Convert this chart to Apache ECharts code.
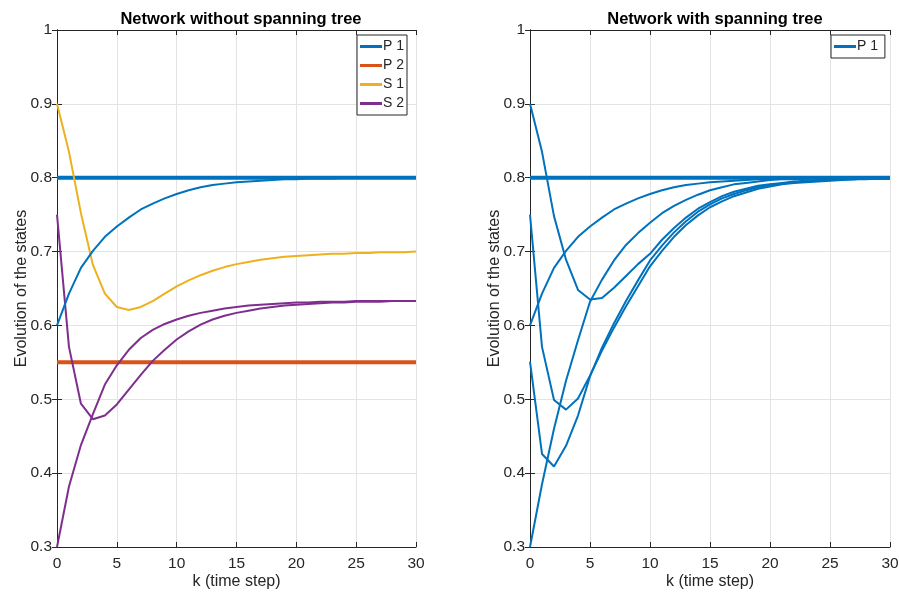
<!DOCTYPE html>
<html>
<head>
<meta charset="utf-8">
<script src="https://cdn.jsdelivr.net/npm/echarts@6/dist/echarts.min.js"></script>
<style>
  html, body { margin: 0; padding: 0; background: #fff; }
  #main { width: 899px; height: 592px; }
</style>
</head>
<body>
<div id="main"></div>
<script>
// time steps k = 0..30
var steps = [];
for (var i = 0; i <= 30; i++) steps.push(i);

var xTicks = [0, 5, 10, 15, 20, 25, 30];
var yTicks = [0.3, 0.4, 0.5, 0.6, 0.7, 0.8, 0.9, 1];

// left panel: network without spanning tree
var leftP1 = [0.8, 0.8, 0.8, 0.8, 0.8, 0.8, 0.8, 0.8, 0.8, 0.8, 0.8, 0.8, 0.8, 0.8, 0.8, 0.8, 0.8, 0.8, 0.8, 0.8, 0.8, 0.8, 0.8, 0.8, 0.8, 0.8, 0.8, 0.8, 0.8, 0.8, 0.8];
var leftP2 = [0.55, 0.55, 0.55, 0.55, 0.55, 0.55, 0.55, 0.55, 0.55, 0.55, 0.55, 0.55, 0.55, 0.55, 0.55, 0.55, 0.55, 0.55, 0.55, 0.55, 0.55, 0.55, 0.55, 0.55, 0.55, 0.55, 0.55, 0.55, 0.55, 0.55, 0.55];
var leftS1 = [0.900, 0.835, 0.752, 0.682, 0.643, 0.625, 0.621, 0.625, 0.633, 0.643, 0.653, 0.661, 0.668, 0.674, 0.679, 0.683, 0.686, 0.689, 0.691, 0.693, 0.694, 0.695, 0.696, 0.697, 0.697, 0.698, 0.698, 0.699, 0.699, 0.699, 0.700];
var leftS2 = [0.750, 0.571, 0.494, 0.473, 0.478, 0.493, 0.513, 0.533, 0.552, 0.567, 0.581, 0.592, 0.601, 0.608, 0.613, 0.617, 0.620, 0.623, 0.625, 0.627, 0.628, 0.629, 0.630, 0.631, 0.631, 0.632, 0.632, 0.632, 0.633, 0.633, 0.633];
var leftBlue2 = [0.600, 0.643, 0.678, 0.701, 0.720, 0.734, 0.746, 0.757, 0.765, 0.772, 0.778, 0.783, 0.787, 0.790, 0.792, 0.794, 0.795, 0.796, 0.797, 0.798, 0.798, 0.799, 0.799, 0.799, 0.800, 0.800, 0.800, 0.800, 0.800, 0.800, 0.800];
var leftPurple2 = [0.300, 0.382, 0.438, 0.480, 0.520, 0.546, 0.567, 0.583, 0.594, 0.602, 0.608, 0.613, 0.617, 0.620, 0.623, 0.625, 0.627, 0.628, 0.629, 0.630, 0.631, 0.631, 0.632, 0.632, 0.632, 0.633, 0.633, 0.633, 0.633, 0.633, 0.633];

// right panel: network with spanning tree
var rightP1 = leftP1;
var rightA = [0.900, 0.835, 0.748, 0.689, 0.648, 0.635, 0.637, 0.651, 0.667, 0.683, 0.697, 0.716, 0.732, 0.746, 0.758, 0.767, 0.775, 0.781, 0.785, 0.789, 0.791, 0.793, 0.795, 0.796, 0.797, 0.797, 0.798, 0.798, 0.799, 0.799, 0.799];
var rightB = leftBlue2;
var rightC = [0.750, 0.571, 0.499, 0.486, 0.501, 0.532, 0.566, 0.597, 0.626, 0.653, 0.680, 0.701, 0.720, 0.736, 0.749, 0.760, 0.768, 0.775, 0.780, 0.785, 0.788, 0.791, 0.793, 0.794, 0.795, 0.796, 0.797, 0.798, 0.798, 0.799, 0.799];
var rightD = [0.551, 0.426, 0.409, 0.437, 0.478, 0.531, 0.570, 0.603, 0.633, 0.661, 0.688, 0.708, 0.726, 0.741, 0.754, 0.764, 0.772, 0.778, 0.783, 0.787, 0.790, 0.792, 0.794, 0.795, 0.796, 0.797, 0.798, 0.798, 0.799, 0.799, 0.799];
var rightE = [0.300, 0.385, 0.460, 0.525, 0.580, 0.632, 0.662, 0.688, 0.709, 0.725, 0.739, 0.752, 0.762, 0.770, 0.777, 0.783, 0.787, 0.791, 0.793, 0.795, 0.797, 0.798, 0.798, 0.799, 0.799, 0.799, 0.800, 0.800, 0.800, 0.800, 0.800];

var BLUE = '#0072bd', ORANGE = '#d95319', YELLOW = '#edb120', PURPLE = '#7e2f8e';
var AX = '#262626';
var FONT = 'Liberation Sans';

function pairs(arr) {
    return steps.map(function (k, i) { return [k, arr[i]]; });
}

function line(name, arr, color, width, gi) {
    return {
        name: name,
        type: 'line',
        xAxisIndex: gi * 2,
        yAxisIndex: gi * 2,
        data: pairs(arr),
        symbol: 'none',
        silent: true,
        animation: false,
        lineStyle: { color: color, width: width },
        itemStyle: { color: color }
    };
}

function xAxes(gi) {
    var base = {
        type: 'value', gridIndex: gi, min: 0, max: 30, interval: 5,
        axisLine: { show: true, lineStyle: { color: AX, width: 1 } },
        axisTick: { show: true, inside: true, length: 5, lineStyle: { color: AX } }
    };
    return [
        Object.assign({}, base, {
            position: 'bottom',
            name: 'k (time step)', nameLocation: 'middle', nameGap: 27, nameMoveOverlap: false,
            nameTextStyle: { color: AX, fontFamily: FONT, fontSize: 16 },
            axisLabel: { color: AX, fontFamily: FONT, fontSize: 15.5, margin: 9 },
            splitLine: { show: true, lineStyle: { color: '#e3e3e3', width: 1 } }
        }),
        Object.assign({}, base, {
            position: 'top',
            axisLabel: { show: false },
            splitLine: { show: false }
        })
    ];
}

function yAxes(gi) {
    var base = {
        type: 'value', gridIndex: gi, min: 0.3, max: 1, interval: 0.1,
        axisLine: { show: true, lineStyle: { color: AX, width: 1 } },
        axisTick: { show: true, inside: true, length: 5, lineStyle: { color: AX } }
    };
    return [
        Object.assign({}, base, {
            position: 'left',
            name: 'Evolution of the states', nameLocation: 'middle', nameGap: 27, nameMoveOverlap: false,
            nameTextStyle: { color: AX, fontFamily: FONT, fontSize: 16 },
            axisLabel: {
                color: AX, fontFamily: FONT, fontSize: 15.5, margin: 5,
                formatter: function (v) { return String(Math.round(v * 10) / 10); }
            },
            splitLine: { show: true, lineStyle: { color: '#e3e3e3', width: 1 } }
        }),
        Object.assign({}, base, {
            position: 'right',
            axisLabel: { show: false },
            splitLine: { show: false }
        })
    ];
}

var legendBase = {
    orient: 'vertical',
    backgroundColor: '#fff',
    borderColor: AX,
    borderWidth: 1,
    padding: [4, 3, 4, 3],
    itemGap: 4,
    itemWidth: 22,
    itemHeight: 3,
    icon: 'rect',
    selectedMode: false,
    textStyle: { color: AX, fontFamily: FONT, fontSize: 14, padding: [0, 0, 0, -4], lineHeight: 15 }
};

var chart = echarts.init(document.getElementById('main'));
var option = {
    animation: false,
    backgroundColor: '#fff',
    title: [
        { text: 'Network without spanning tree', left: 236, top: 6, textAlign: 'center',
          textStyle: { fontFamily: FONT, fontSize: 16.5, fontWeight: 'bold', color: '#000' } },
        { text: 'Network with spanning tree', left: 710, top: 6, textAlign: 'center',
          textStyle: { fontFamily: FONT, fontSize: 16.5, fontWeight: 'bold', color: '#000' } }
    ],
    grid: [
        { left: 57, top: 30, width: 359, height: 517, outerBoundsMode: 'none' },
        { left: 530, top: 30, width: 360, height: 517, outerBoundsMode: 'none' }
    ],
    xAxis: xAxes(0).concat(xAxes(1)),
    yAxis: yAxes(0).concat(yAxes(1)),
    legend: [
        Object.assign({}, legendBase, { left: 357, top: 35, data: ['P 1', 'P 2', 'S 1', 'S 2'] }),
        Object.assign({}, legendBase, { left: 831, top: 35, data: ['P 1 '] })
    ],
    series: [
        line('P 1', leftP1, BLUE, 4, 0),
        line('P 2', leftP2, ORANGE, 4, 0),
        line('S 1', leftS1, YELLOW, 2, 0),
        line('S 2', leftS2, PURPLE, 2, 0),
        line('s3', leftBlue2, BLUE, 2, 0),
        line('s4', leftPurple2, PURPLE, 2, 0),
        line('P 1 ', rightP1, BLUE, 4, 1),
        line('r1', rightA, BLUE, 2, 1),
        line('r2', rightB, BLUE, 2, 1),
        line('r3', rightC, BLUE, 2, 1),
        line('r4', rightD, BLUE, 2, 1),
        line('r5', rightE, BLUE, 2, 1)
    ]
};
chart.setOption(option);
</script>
</body>
</html>
